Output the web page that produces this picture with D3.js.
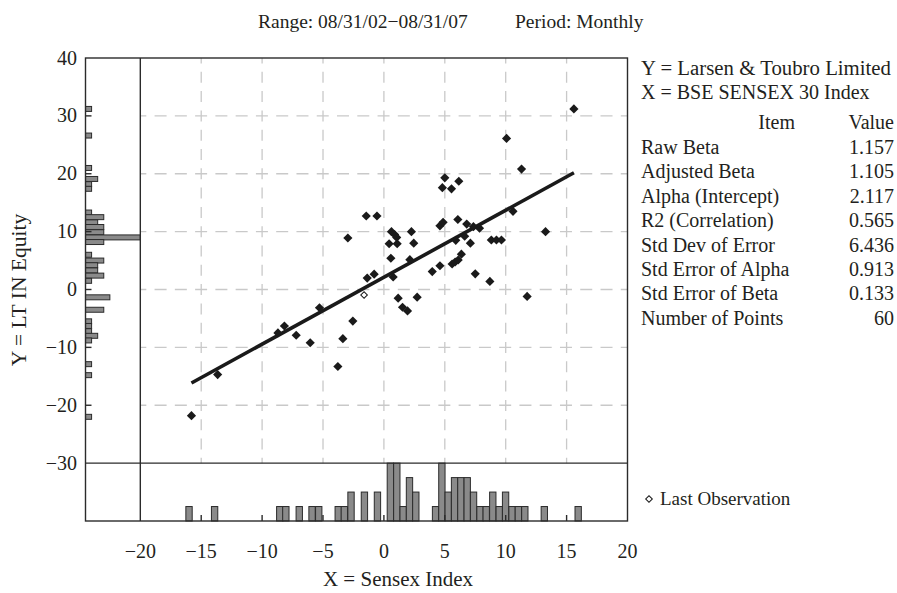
<!DOCTYPE html>
<html>
<head>
<meta charset="utf-8">
<script src="https://cdn.jsdelivr.net/npm/d3@7"></script>
<style>
body{margin:0;background:#fff;}
svg text{font-family:"Liberation Serif","Times New Roman",serif;fill:#231f20;}
</style>
</head>
<body>
<div id="chart"></div>
<script>
// monthly returns, % (x = Sensex, y = L&T)
const sensexX=[-15.8,-13.65,-8.7,-8.17,-7.2,-6.05,-5.29,-3.78,-3.37,-2.55,-2.96,-1.45,-0.57,-1.37,-0.8,
    0.62,0.88,1.05,0.43,1.09,0.57,0.76,1.17,1.53,1.94,2.26,2.45,2.13,2.73,3.97,4.6,4.6,4.86,5.0,4.8,5.55,6.15,
    6.07,6.8,7.35,7.85,5.9,6.63,7.1,8.82,9.24,9.65,6.36,5.6,5.85,6.1,7.5,8.7,10.07,11.3,10.6,13.27,15.6,11.76];
const ltY=[-21.8,-14.7,-7.5,-6.3,-7.9,-9.2,-3.16,-13.3,-8.5,-5.46,8.9,12.7,12.7,1.97,2.65,
    10.0,9.5,9.0,7.9,7.9,5.4,2.16,-1.5,-3.07,-3.7,10.0,8.0,5.15,-1.33,3.1,4.1,11.0,11.6,19.3,17.6,17.4,18.7,
    12.1,11.3,10.85,10.6,8.5,9.2,8.0,8.55,8.55,8.55,6.1,4.4,4.75,5.1,2.7,1.4,26.1,20.8,13.5,10.0,31.2,-1.2];
const lastObs=[-1.63,-0.95];

const alpha=2.117;
const beta=1.157;

// histogram of x (bin centre, count)
const xHistCenters=[-16.0,-13.9,-8.55,-8.05,-6.95,-5.9,-5.35,-3.75,-3.25,-2.7,-1.6,-0.53,0.53,1.06,1.58,2.1,2.62,
    4.24,4.76,5.28,5.8,6.32,6.84,7.36,7.89,8.4,8.94,9.47,9.99,10.52,11.04,11.57,13.17,15.95];
const xHistCounts=[1,1,1,1,1,1,1,1,1,2,2,2,4,4,1,3,2,1,4,2,3,3,3,2,1,1,2,1,2,1,1,1,1,1];
const xBinWidth=0.52;

// histogram of y
const yHistCenters=[31.2,26.6,21.0,19.1,18.2,17.4,13.3,12.5,11.6,10.8,9.9,9.0,8.2,6.0,5.0,4.2,3.3,2.4,1.5,
    -1.35,-3.5,-5.5,-6.3,-7.2,-8.0,-8.8,-12.9,-14.8,-22.0];
const yHistCounts=[1,1,1,2,1,1,1,3,2,3,3,9,3,1,3,2,2,3,1,4,3,1,1,1,2,1,1,1,1];
const yBinWidth=0.86;

const xTicks=[-20,-15,-10,-5,0,5,10,15,20];
const yTicks=[40,30,20,10,0,-10,-20,-30];

const statItems=["Raw Beta","Adjusted Beta","Alpha (Intercept)","R2 (Correlation)","Std Dev of Error",
    "Std Error of Alpha","Std Error of Beta","Number of Points"];
const statValues=["1.157","1.105","2.117","0.565","6.436","0.913","0.133","60"];

const fmt=v => v<0? "\u2212"+Math.abs(v):String(v);

const svg=d3.select("#chart").append("svg")
    .attr("width", 897)
    .attr("height", 593);

const x=d3.scaleLinear().domain([-24.5, 20]).range([85.5, 627.5]);
const y=d3.scaleLinear().domain([-40, 40]).range([521, 58]);

// scatter area grid
const grid=svg.append("g")
    .style("stroke", "#c9c9c9")
    .style("stroke-width", 1.3);

grid.selectAll(".gh")
    .data(yTicks.filter(v => v<40 && v>-30))
    .enter().append("line")
    .attr("x1", x(-20)).attr("x2", x(20))
    .attr("y1", d => y(d)).attr("y2", d => y(d))
    .style("stroke-dasharray", "12 8.27")
    .style("stroke-dashoffset", 6);

grid.selectAll(".gv")
    .data(xTicks.filter(v => v>-20 && v<20))
    .enter().append("line")
    .attr("x1", d => x(d)).attr("x2", d => x(d))
    .attr("y1", y(40)).attr("y2", y(-30))
    .style("stroke-dasharray", "11 8.3")
    .style("stroke-dashoffset", 5.5);

// histogram bars, bottom (x distribution)
const xCount=d3.scaleLinear().domain([0, 4]).range([y(-40), y(-30)]);
svg.append("g").selectAll("rect")
    .data(xHistCenters)
    .enter().append("rect")
    .attr("x", d => x(d-xBinWidth/2))
    .attr("width", x(xBinWidth)-x(0))
    .attr("y", (d, i) => xCount(xHistCounts[i]))
    .attr("height", (d, i) => y(-40)-xCount(xHistCounts[i]))
    .style("fill", "#8a8a8a")
    .style("stroke", "#2b2b2b")
    .style("stroke-width", 1);

// histogram bars, left (y distribution)
const yCount=d3.scaleLinear().domain([0, 9]).range([x(-24.5), x(-20)]);
svg.append("g").selectAll("rect")
    .data(yHistCenters)
    .enter().append("rect")
    .attr("x", x(-24.5))
    .attr("y", d => y(d+yBinWidth/2))
    .attr("width", (d, i) => yCount(yHistCounts[i])-x(-24.5))
    .attr("height", y(0)-y(yBinWidth))
    .style("fill", "#8a8a8a")
    .style("stroke", "#2b2b2b")
    .style("stroke-width", 1);

// frame and dividers
const frame=svg.append("g").style("stroke", "#2b2b2b").style("stroke-width", 1.4).style("fill", "none");
frame.append("rect")
    .attr("x", x(-24.5)).attr("y", y(40))
    .attr("width", x(20)-x(-24.5)).attr("height", y(-40)-y(40));
frame.append("line")
    .attr("x1", x(-20)).attr("x2", x(-20))
    .attr("y1", y(40)).attr("y2", y(-40));
frame.append("line")
    .attr("x1", x(-24.5)).attr("x2", x(20))
    .attr("y1", y(-30)).attr("y2", y(-30));

// small inner ticks
frame.selectAll(".ty")
    .data(yTicks.filter(v => v<40 && v>-30))
    .enter().append("line")
    .attr("x1", x(-24.5)).attr("x2", x(-24.5)+6)
    .attr("y1", d => y(d)).attr("y2", d => y(d));
frame.selectAll(".tx")
    .data(xTicks.filter(v => v>-20 && v<20))
    .enter().append("line")
    .attr("x1", d => x(d)).attr("x2", d => x(d))
    .attr("y1", y(-40)).attr("y2", y(-40)-6);

// tick labels
svg.append("g").selectAll("text")
    .data(yTicks)
    .enter().append("text")
    .attr("x", 77)
    .attr("y", d => y(d)+6.5)
    .attr("text-anchor", "end")
    .style("font-size", "20px")
    .text(fmt);

svg.append("g").selectAll("text")
    .data(xTicks)
    .enter().append("text")
    .attr("x", d => x(d))
    .attr("y", 558)
    .attr("text-anchor", "middle")
    .style("font-size", "20px")
    .text(fmt);

// regression line
const fitX=d3.extent(sensexX);
svg.append("path")
    .datum(fitX)
    .attr("d", d3.line().x(d => x(d)).y(d => y(alpha+beta*d)))
    .style("stroke", "#1a1a1a")
    .style("stroke-width", 3.6)
    .style("fill", "none");

// points
const diamond=d3.symbol(d3.symbolSquare, 42);
svg.append("g").selectAll("path")
    .data(sensexX)
    .enter().append("path")
    .attr("d", diamond)
    .attr("transform", (d, i) => `translate(${x(d)},${y(ltY[i])}) rotate(45)`)
    .style("fill", "#1a1a1a");

const hollow=d3.symbol(d3.symbolSquare, 22);
svg.append("path")
    .attr("d", hollow)
    .attr("transform", `translate(${x(lastObs[0])},${y(lastObs[1])}) rotate(45)`)
    .style("fill", "#fff")
    .style("stroke", "#1a1a1a")
    .style("stroke-width", 1);

// titles
svg.append("text")
    .attr("x", 258).attr("y", 28)
    .style("font-size", "19.5px")
    .text("Range: 08/31/02\u221208/31/07");
svg.append("text")
    .attr("x", 515).attr("y", 28)
    .style("font-size", "19.5px")
    .text("Period: Monthly");

svg.append("text")
    .attr("x", 398).attr("y", 586)
    .attr("text-anchor", "middle")
    .style("font-size", "21px")
    .text("X = Sensex Index");

svg.append("text")
    .attr("transform", "translate(26,290) rotate(-90)")
    .attr("text-anchor", "middle")
    .style("font-size", "21.5px")
    .text("Y = LT IN Equity");

// stats block
const side=svg.append("g").style("font-size", "20px");
side.append("text").attr("x", 641).attr("y", 75).style("font-size", "20.8px").text("Y = Larsen & Toubro Limited");
side.append("text").attr("x", 641).attr("y", 99).text("X = BSE SENSEX 30 Index");
side.append("text").attr("x", 795).attr("y", 129).attr("text-anchor", "end").text("Item");
side.append("text").attr("x", 894).attr("y", 129).attr("text-anchor", "end").text("Value");

side.selectAll(".item")
    .data(statItems)
    .enter().append("text")
    .attr("x", 641)
    .attr("y", (d, i) => 154+i*24.4)
    .text(d => d);
side.selectAll(".val")
    .data(statValues)
    .enter().append("text")
    .attr("x", 894)
    .attr("y", (d, i) => 154+i*24.4)
    .attr("text-anchor", "end")
    .text(d => d);

// legend
svg.append("path")
    .attr("d", hollow)
    .attr("transform", "translate(649,499) rotate(45)")
    .style("fill", "#fff")
    .style("stroke", "#1a1a1a")
    .style("stroke-width", 1);
svg.append("text")
    .attr("x", 660).attr("y", 505)
    .style("font-size", "19px")
    .text("Last Observation");
</script>
</body>
</html>
